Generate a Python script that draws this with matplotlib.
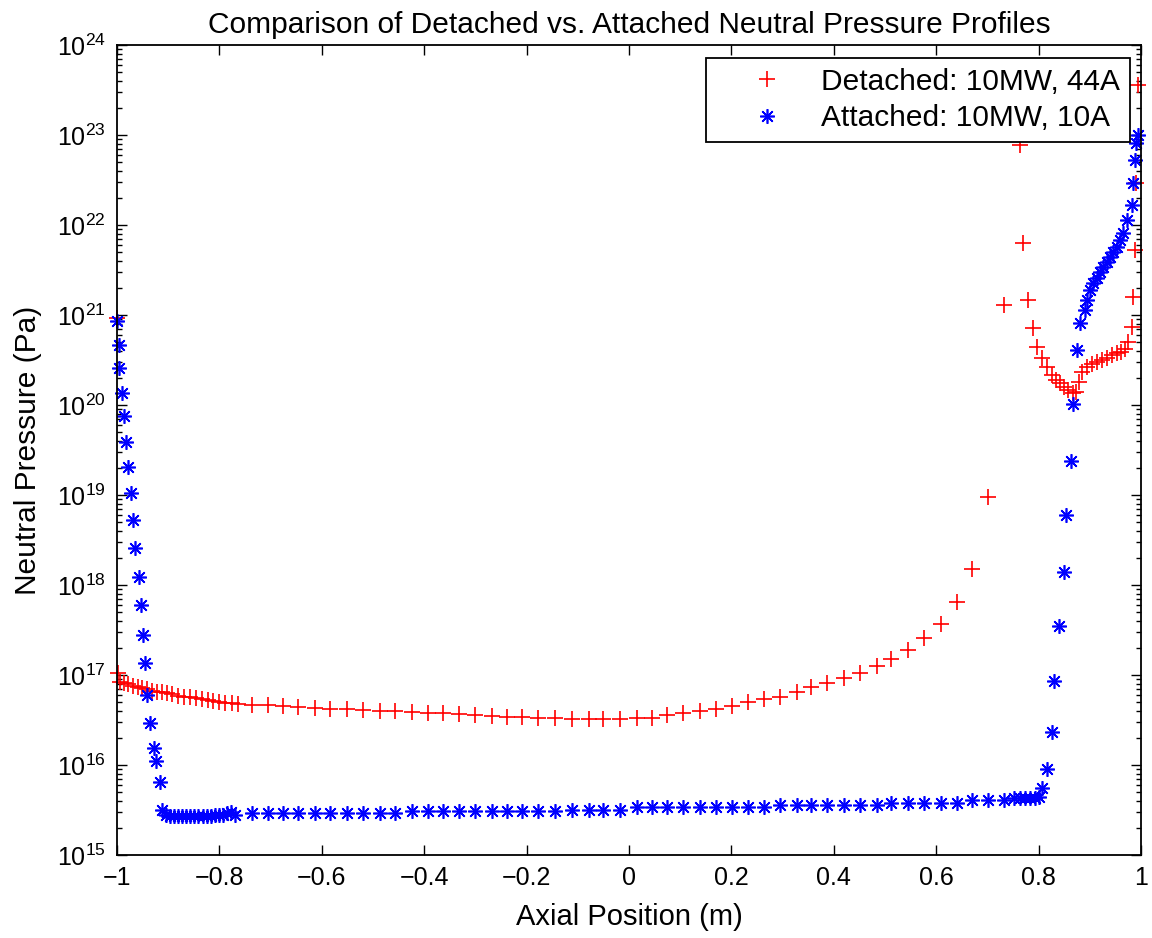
import numpy as np
import matplotlib
matplotlib.use("Agg")
from matplotlib import pyplot as plt
from matplotlib.ticker import FixedLocator, NullFormatter, FuncFormatter

# detached case: 10MW, 44A  (axial position in m, neutral pressure in Pa)
detached_x = [
    -1.0, -0.999, -0.994, -0.986, -0.978, -0.968, -0.959, -0.951, -0.941, -0.931,
    -0.921, -0.912, -0.902, -0.892, -0.880, -0.869, -0.857, -0.846, -0.835, -0.823,
    -0.812, -0.801, -0.789, -0.776, -0.763,
    -0.737, -0.705, -0.675, -0.646, -0.613, -0.584, -0.551, -0.519, -0.486, -0.457,
    -0.424, -0.392, -0.363, -0.333, -0.301, -0.268, -0.239, -0.210, -0.177, -0.145,
    -0.112, -0.079, -0.050, -0.018, 0.015, 0.044, 0.074, 0.106, 0.139, 0.170,
    0.202, 0.232, 0.264, 0.295, 0.328, 0.355, 0.386, 0.420, 0.452, 0.484,
    0.512, 0.544, 0.576, 0.609, 0.640, 0.669, 0.701, 0.732, 0.764, 0.769,
    0.780, 0.788, 0.797, 0.806, 0.816, 0.826, 0.834, 0.842, 0.850, 0.858,
    0.867, 0.872, 0.878, 0.884, 0.894, 0.904, 0.913, 0.923, 0.933, 0.943,
    0.953, 0.960, 0.969, 0.975, 0.983, 0.985, 0.988, 0.990, 0.995,
]
detached_p = [
    9.3e20, 1.06e17, 8.4e16, 8.1e16, 7.9e16, 7.6e16, 7.4e16, 7.2e16, 7.0e16, 6.7e16,
    6.5e16, 6.4e16, 6.25e16, 6.1e16, 5.9e16, 5.75e16, 5.65e16, 5.5e16, 5.4e16, 5.3e16,
    5.15e16, 5.0e16, 4.9e16, 4.85e16, 4.75e16,
    4.7e16, 4.6e16, 4.5e16, 4.45e16, 4.3e16, 4.2e16, 4.15e16, 4.05e16, 4.0e16, 3.95e16,
    3.9e16, 3.8e16, 3.75e16, 3.7e16, 3.6e16, 3.5e16, 3.45e16, 3.4e16, 3.35e16, 3.3e16,
    3.25e16, 3.25e16, 3.25e16, 3.25e16, 3.3e16, 3.35e16, 3.55e16, 3.75e16, 3.95e16, 4.15e16,
    4.5e16, 5.05e16, 5.4e16, 5.75e16, 6.4e16, 7.3e16, 8.2e16, 9.2e16, 1.05e17, 1.26e17,
    1.5e17, 1.9e17, 2.6e17, 3.7e17, 6.4e17, 1.5e18, 9.6e18, 1.3e21, 7.7e22, 6.3e21,
    1.47e21, 7.1e20, 4.45e20, 3.3e20, 2.65e20, 2.15e20, 1.9e20, 1.75e20, 1.6e20, 1.45e20,
    1.35e20, 1.4e20, 1.8e20, 2.35e20, 2.65e20, 2.85e20, 3.0e20, 3.15e20, 3.35e20, 3.6e20,
    3.75e20, 3.9e20, 4.15e20, 5.05e20, 7.4e20, 1.57e21, 5.3e21, 2.9e22, 3.6e23,
]

# attached case: 10MW, 10A
attached_x = [
    -1.0, -0.997, -0.996, -0.991, -0.986, -0.982, -0.978, -0.973, -0.968, -0.965,
    -0.958, -0.954, -0.950, -0.945, -0.942, -0.935, -0.927, -0.923, -0.917, -0.912,
    -0.905, -0.897, -0.889, -0.881, -0.873, -0.865, -0.857, -0.849, -0.841, -0.833,
    -0.825, -0.817, -0.809, -0.801, -0.793, -0.785, -0.777, -0.769,
    -0.737, -0.705, -0.675, -0.646, -0.613, -0.584, -0.551, -0.519, -0.486, -0.457,
    -0.424, -0.392, -0.363, -0.333, -0.301, -0.268, -0.239, -0.210, -0.177, -0.145,
    -0.112, -0.079, -0.050, -0.018, 0.015, 0.044, 0.074, 0.106, 0.139, 0.170,
    0.202, 0.232, 0.264, 0.295, 0.328, 0.355, 0.386, 0.420, 0.452, 0.484,
    0.512, 0.544, 0.576, 0.609, 0.640, 0.669, 0.701, 0.733, 0.751, 0.764,
    0.773, 0.783, 0.792, 0.800, 0.806, 0.816, 0.826, 0.830, 0.839, 0.849,
    0.854, 0.863, 0.868, 0.874, 0.881, 0.891, 0.894, 0.900, 0.907, 0.913,
    0.920, 0.926, 0.933, 0.939, 0.946, 0.953, 0.958, 0.964, 0.972, 0.982,
    0.985, 0.988, 0.991, 0.995,
]
attached_p = [
    8.6e20, 4.6e20, 2.55e20, 1.37e20, 7.5e19, 3.9e19, 2.05e19, 1.05e19, 5.3e18, 2.55e18,
    1.24e18, 6.0e17, 2.8e17, 1.35e17, 6.0e16, 2.9e16, 1.53e16, 1.12e16, 6.5e15, 3.2e15,
    2.75e15, 2.7e15, 2.7e15, 2.7e15, 2.7e15, 2.7e15, 2.7e15, 2.7e15, 2.7e15, 2.7e15,
    2.7e15, 2.7e15, 2.75e15, 2.75e15, 2.8e15, 2.95e15, 3.0e15, 2.8e15,
    2.9e15, 2.9e15, 2.9e15, 2.9e15, 2.9e15, 2.9e15, 2.9e15, 2.9e15, 2.9e15, 2.95e15,
    3.1e15, 3.1e15, 3.1e15, 3.1e15, 3.1e15, 3.1e15, 3.1e15, 3.1e15, 3.1e15, 3.1e15,
    3.15e15, 3.2e15, 3.2e15, 3.2e15, 3.4e15, 3.4e15, 3.4e15, 3.4e15, 3.4e15, 3.4e15,
    3.4e15, 3.45e15, 3.45e15, 3.6e15, 3.6e15, 3.6e15, 3.6e15, 3.6e15, 3.6e15, 3.6e15,
    3.8e15, 3.8e15, 3.8e15, 3.8e15, 3.8e15, 4.1e15, 4.1e15, 4.1e15, 4.25e15, 4.25e15,
    4.25e15, 4.25e15, 4.3e15, 4.45e15, 5.5e15, 9.0e15, 2.3e16, 8.6e16, 3.5e17, 1.4e18,
    6.0e18, 2.4e19, 1.03e20, 4.1e20, 8.1e20, 1.14e21, 1.47e21, 1.9e21, 2.25e21, 2.55e21,
    3.0e21, 3.45e21, 3.9e21, 4.45e21, 5.05e21, 5.75e21, 6.8e21, 8.1e21, 1.14e22, 1.67e22,
    2.9e22, 5.3e22, 8.1e22, 1.0e23,
]

labels = ["Detached: 10MW, 44A", "Attached: 10MW, 10A"]
title = "Comparison of Detached vs. Attached Neutral Pressure Profiles"
decades = np.arange(15, 25)
x_ticks = np.arange(-1, 1.01, 0.2)


def tick_label(v, pos):
    # matlab style: -1, -0.8, ..., 0, ..., 1
    return ("%g" % (round(v, 2) + 0.0)).replace("-", "\u2212")


def main():
    plt.rcParams["font.family"] = ["Liberation Sans", "DejaVu Sans"]
    plt.rcParams["mathtext.default"] = "regular"

    fig = plt.figure(figsize=(11.52, 9.38), dpi=100)
    ax = fig.add_axes([0.1016, 0.0885, 0.8889, 0.8635])

    asterisk = (8, 2, 0)
    ax.plot(detached_x, detached_p, linestyle="none", marker="+", color="red",
            markersize=11, markeredgewidth=1.2, clip_on=False, label=labels[0])
    ax.plot(attached_x, attached_p, linestyle="none", marker=asterisk, color="blue",
            markersize=10.5, markeredgewidth=1.2, clip_on=False, label=labels[1])

    ax.set_yscale("log")
    ax.set_xlim(-1, 1)
    ax.set_ylim(1e15, 1e24)

    ax.set_xticks(x_ticks)
    ax.xaxis.set_major_formatter(FuncFormatter(tick_label))
    majors = 10.0 ** decades
    minors = [m * 10.0 ** d for d in decades[:-1] for m in range(2, 10)]
    ax.yaxis.set_major_locator(FixedLocator(majors))
    ax.yaxis.set_minor_locator(FixedLocator(minors))
    ax.yaxis.set_minor_formatter(NullFormatter())

    ax.tick_params(which="both", direction="in", top=True, right=True, width=1.0)
    ax.tick_params(which="major", length=7.5, labelsize=18, pad=8)
    ax.tick_params(which="minor", length=3.6)
    for spine in ax.spines.values():
        spine.set_linewidth(1.3)

    ax.set_xlabel("Axial Position (m)", fontsize=21, labelpad=9)
    ax.set_ylabel("Neutral Pressure (Pa)", fontsize=21.5, labelpad=11)
    ax.set_title(title, fontsize=21.5, pad=9)

    leg = ax.legend(loc="upper right", bbox_to_anchor=(0.9893, 0.984), borderaxespad=0,
                    fontsize=21.5, fancybox=False, framealpha=1, edgecolor="black",
                    handlelength=3.45, handletextpad=0.1, borderpad=0.33, labelspacing=0.28)
    leg.get_frame().set_linewidth(1.3)

    fig.savefig("out.png", dpi=100)


if __name__ == "__main__":
    main()
